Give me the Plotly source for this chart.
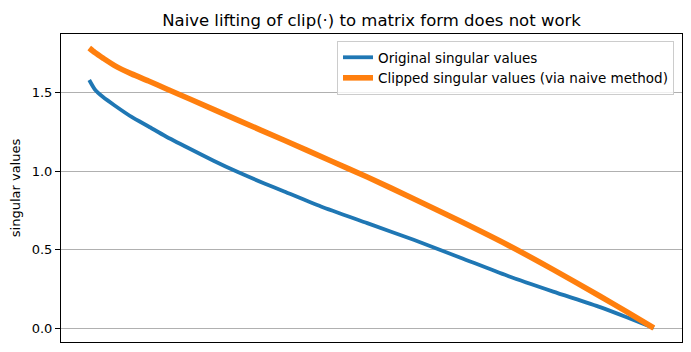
import plotly.graph_objects as go

rank_original = [0, 10, 25, 45, 75, 105, 135, 178, 220, 262, 310, 345, 410, 492, 574,
                 657, 739, 821, 904, 950, 999]
original = [1.58, 1.52, 1.47, 1.418, 1.345, 1.284, 1.222, 1.142, 1.066, 0.995, 0.921,
            0.87, 0.774, 0.668, 0.562, 0.448, 0.334, 0.232, 0.133, 0.07, 0.0]
rank_clipped = [0, 10, 25, 45, 75, 105, 135, 180, 262, 345, 427, 492, 574, 657, 739,
                821, 904, 950, 999]
clipped = [1.784, 1.755, 1.718, 1.672, 1.619, 1.574, 1.526, 1.456, 1.326, 1.196, 1.066,
           0.962, 0.824, 0.68, 0.532, 0.372, 0.202, 0.106, 0.0]
y_ticks = [0.0, 0.5, 1.0, 1.5]
y_tick_labels = ["0.0", "0.5", "1.0", "1.5"]

FONT = "DejaVu Sans"

fig = go.Figure()
fig.add_trace(go.Scatter(x=rank_original, y=original, mode="lines",
                         name="Original singular values",
                         line=dict(color="#1f77b4", width=3.8, shape="spline", smoothing=0.6)))
fig.add_trace(go.Scatter(x=rank_clipped, y=clipped, mode="lines",
                         name="Clipped singular values (via naive method)",
                         line=dict(color="#ff7f0e", width=5.6, shape="spline", smoothing=0.6)))

n = max(rank_original)
ymax = max(clipped)
fig.update_layout(
    width=691, height=352,
    margin=dict(l=61, r=9, t=34, b=10),
    paper_bgcolor="white", plot_bgcolor="white",
    font=dict(family=FONT, size=13, color="black"),
    title=dict(text="Naive lifting of clip(·) to matrix form does not work",
               x=(61 + 682) / 2 / 691, xanchor="center", y=1 - 20 / 352, yanchor="middle",
               font=dict(family=FONT, size=16.5, color="black")),
    xaxis=dict(range=[-0.05 * n, 1.05 * n], showticklabels=False, ticks="",
               showgrid=False, zeroline=False, showline=True, linecolor="black",
               linewidth=1, mirror=True),
    yaxis=dict(range=[-0.05 * ymax, 1.05 * ymax], tickvals=y_ticks, ticktext=y_tick_labels,
               ticks="outside", ticklen=5, tickcolor="black", tickwidth=1,
               showgrid=True, gridcolor="#b0b0b0", gridwidth=0.8, zeroline=False,
               showline=True, linecolor="black", linewidth=1, mirror=True,
               title=dict(text="singular values", font=dict(family=FONT, size=13), standoff=8),
               tickfont=dict(family=FONT, size=13)),
    legend=dict(x=(674 - 61) / 621, y=1 - 7 / 308, xanchor="right", yanchor="top",
                bgcolor="rgba(255,255,255,0.8)", bordercolor="#cccccc", borderwidth=1,
                font=dict(family=FONT, size=13.5), tracegroupgap=0),
    showlegend=True,
)

fig.write_html("out.html")
